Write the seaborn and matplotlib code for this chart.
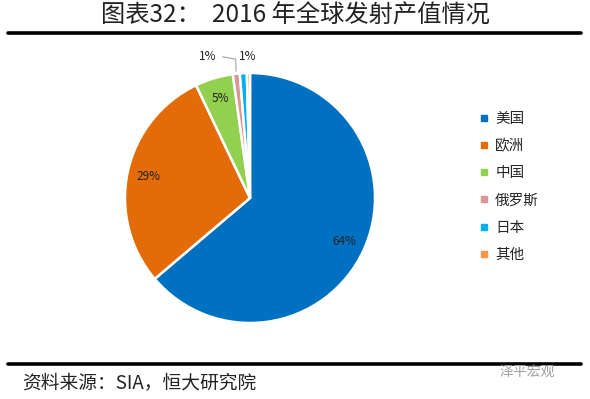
import numpy as np
import matplotlib
matplotlib.use("Agg")
import matplotlib.pyplot as plt
from matplotlib.lines import Line2D
import seaborn as sns

# data
regions = ["美国", "欧洲", "中国", "俄罗斯", "日本", "其他"]
shares = [63.8, 29.1, 4.9, 0.9, 0.9, 0.4]
labels = ["64%", "29%", "5%", "1%", "1%", ""]
colors = ["#0070C0", "#E36C09", "#92D050", "#D99694", "#00B0F0", "#F79646"]

title = "图表32：  2016 年全球发射产值情况"
source = "资料来源：SIA，恒大研究院"

sns.set_theme(style="white")
plt.rcParams['font.family'] = ['Noto Sans CJK SC', 'DejaVu Sans']

W, H = 590, 399
fig = plt.figure(figsize=(W / 100, H / 100), dpi=100)
fig.patch.set_facecolor("white")

# pie box: centre (250, 198) px, radius 125 px
ax = fig.add_axes([125 / W, (H - 323) / H, 250 / W, 250 / H])
pal = sns.color_palette(colors)
wedges, _ = ax.pie(shares, colors=pal, startangle=90, counterclock=False,
                   radius=1.0, wedgeprops=dict(edgecolor="white", linewidth=1.8))
ax.set_xlim(-1, 1)
ax.set_ylim(-1, 1)
ax.axis("off")

# percentage labels
for i, (w, lab) in enumerate(zip(wedges, labels)):
    if not lab:
        continue
    ang = np.deg2rad((w.theta1 + w.theta2) / 2)
    if shares[i] >= 3:
        r = 0.83
        ax.text(r * np.cos(ang), r * np.sin(ang), lab, ha="center", va="center",
                fontsize=8.5, color="#222222")
    else:
        x0, y0 = np.cos(ang), np.sin(ang)
        if i == 3:
            tx, ty = -0.34, 1.13
            ax.plot([x0 * 1.02, x0 * 1.04, tx + 0.12], [y0 * 1.02, 1.11, ty],
                    color="#999999", lw=0.7, clip_on=False)
        else:
            tx, ty = -0.02, 1.13
        ax.text(tx, ty, lab, ha="center", va="center", fontsize=8.5, color="#222222")

# title and rules
fig.text(295 / W, 1 - 16 / H, title, ha="center", va="center", fontsize=17.5,
         color="#222222", fontweight="light")
fig.add_artist(Line2D([8 / W, 581 / W], [1 - 33 / H, 1 - 33 / H], color="black",
                      lw=2.6, transform=fig.transFigure))
fig.add_artist(Line2D([8 / W, 581 / W], [1 - 364 / H, 1 - 364 / H], color="black",
                      lw=2.6, transform=fig.transFigure))
fig.text(22 / W, 1 - 383 / H, source, ha="left", va="center", fontsize=13.5,
         style="italic", color="#222222")
fig.text(500 / W, 1 - 372 / H, "泽平宏观", ha="left", va="center", fontsize=10,
         color="#a0a0a0")

# legend
handles = [Line2D([0], [0], marker="s", linestyle="", markersize=4.5,
                  markerfacecolor=c, markeredgecolor=c) for c in colors]
fig.legend(handles, regions, loc="upper left", bbox_to_anchor=(466 / W, 1 - 99 / H),
           frameon=False, fontsize=10.5, handlelength=0.6, handletextpad=0.5,
           labelspacing=0.9)

fig.savefig("out.png", dpi=100)
